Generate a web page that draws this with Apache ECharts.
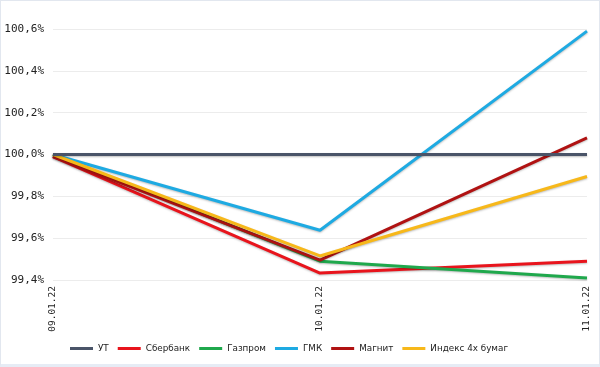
<!DOCTYPE html>
<html><head><meta charset="utf-8">
<script src="https://cdn.jsdelivr.net/npm/echarts@6/dist/echarts.min.js"></script>
<style>html,body{margin:0;padding:0;background:#fff}
#c{width:600px;height:367px;box-sizing:border-box;border:1px solid #e2e7ef;border-bottom:3px solid #e6ecf5}</style>
</head><body><div id="c"></div>
<script>
const categories = ['09.01.22', '10.01.22', '11.01.22'];
const seriesNames = ['УТ', 'Сбербанк', 'Газпром', 'ГМК', 'Магнит', 'Индекс 4х бумаг'];
const ut = [100.0, 100.0, 100.0];
const sber = [99.99, 99.433, 99.49];
const gazprom = [100.0, 99.49, 99.41];
const gmk = [100.0, 99.638, 100.59];
const magnit = [99.99, 99.495, 100.08];
const index4 = [100.0, 99.515, 99.895];
const colors = ['#4a5468', '#e8141c', '#1fa84c', '#1eaae2', '#b01212', '#f7b81a'];
const seriesData = [ut, sber, gazprom, gmk, magnit, index4];

const chart = echarts.init(document.getElementById('c'));
chart.setOption({
  animation: false,
  backgroundColor: '#fff',
  color: colors,
  grid: {left: 52, right: 12, top: 28, bottom: 84},
  legend: {
    bottom: 6, left: 64, itemWidth: 23, itemHeight: 10, itemGap: 9,
    icon: 'path://M0,3.5 L23,3.5 L23,6.5 L0,6.5 Z',
    textStyle: {fontFamily: 'DejaVu Sans', fontSize: 8.8, color: '#222'},
    data: seriesNames
  },
  xAxis: {
    type: 'category', data: categories, boundaryGap: false,
    axisLine: {show: false}, axisTick: {show: false},
    axisLabel: {rotate: 90, fontFamily: 'DejaVu Sans Mono', fontSize: 9.5, color: '#222', margin: 6}
  },
  yAxis: {
    type: 'value', min: 99.4, max: 100.6, interval: 0.2,
    axisLine: {show: false}, axisTick: {show: false},
    splitLine: {lineStyle: {color: '#ececec'}},
    axisLabel: {fontFamily: 'DejaVu Sans Mono', fontSize: 11, color: '#222', margin: 9,
      formatter: v => v.toFixed(1).replace('.', ',') + '%'}
  },
  series: seriesNames.map((n, i) => ({
    name: n, type: 'line', data: seriesData[i], symbol: 'none',
    lineStyle: {width: 3, color: colors[i], shadowColor: 'rgba(0,0,0,0.25)', shadowBlur: 2, shadowOffsetY: 1},
    z: i === 0 ? 10 : 2
  }))
});
</script></body></html>
